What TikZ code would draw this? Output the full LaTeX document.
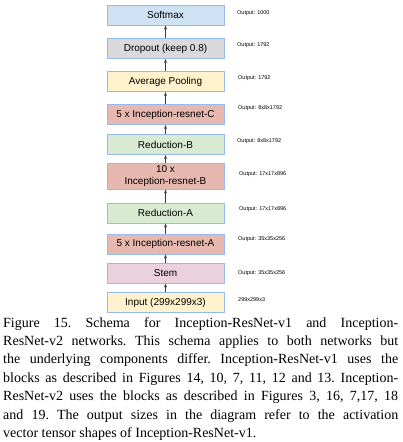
\documentclass[tikz,border=0pt]{standalone}
\usepackage{fontspec}
\setmainfont{Liberation Serif}
\setsansfont{Liberation Sans}
\definecolor{edgeblue}{RGB}{150,185,240}
\definecolor{softblue}{RGB}{207,226,243}
\definecolor{dropgray}{RGB}{217,217,217}
\definecolor{poolyellow}{RGB}{255,242,204}
\definecolor{incred}{RGB}{230,184,175}
\definecolor{redgreen}{RGB}{217,234,211}
\definecolor{stempink}{RGB}{234,209,220}
\definecolor{arrgray}{RGB}{60,60,60}
\usepackage{tikz}
\usetikzlibrary{arrows.meta,positioning}

\begin{document}
\begin{tikzpicture}[x=1pt, y=-1pt,
      box/.style={draw=edgeblue, line width=1pt, minimum width=117pt, minimum height=20pt,
                  inner sep=1pt, font=\sffamily\fontsize{10}{11.5}\selectfont, align=center},
      arr/.style={-{Stealth[length=4pt,width=3pt]}, draw=arrgray, line width=1.2pt},
      outlbl/.style={anchor=west, inner sep=0pt, font=\sffamily\fontsize{5.5}{6}\selectfont}
    ]
      \useasboundingbox (0,0) rectangle (402,442);
      % network blocks, bottom to top
      \node[box, fill=poolyellow] (input) at (165.5,302.5) {Input (299x299x3)};
      \node[box, fill=stempink] (stem) at (165.5,273) {Stem};
      \node[box, fill=incred] (incA) at (165.5,244) {5 x Inception-resnet-A};
      \node[box, fill=redgreen] (redA) at (165.5,213) {Reduction-A};
      \node[box, fill=incred, minimum height=26pt] (incB) at (165.5,176) {10 x\\Inception-resnet-B};
      \node[box, fill=redgreen] (redB) at (165.5,144.5) {Reduction-B};
      \node[box, fill=incred] (incC) at (165.5,114.5) {5 x Inception-resnet-C};
      \node[box, fill=poolyellow] (pool) at (165.5,81.5) {Average Pooling};
      \node[box, fill=dropgray] (drop) at (165.5,48.5) {Dropout (keep 0.8)};
      \node[box, fill=softblue] (softmax) at (165.5,15) {Softmax};
      \draw[arr] (input) -- (stem);
      \draw[arr] (stem) -- (incA);
      \draw[arr] (incA) -- (redA);
      \draw[arr] (redA) -- (incB);
      \draw[arr] (incB) -- (redB);
      \draw[arr] (redB) -- (incC);
      \draw[arr] (incC) -- (pool);
      \draw[arr] (pool) -- (drop);
      \draw[arr] (drop) -- (softmax);
      % output sizes
      \node[outlbl] (oSoftmax) at (237,13) {Output: 1000};
      \node[outlbl] (oDrop) at (237,45) {Output: 1792};
      \node[outlbl] (oPool) at (238,78) {Output: 1792};
      \node[outlbl] (oIncC) at (238,108) {Output: 8x8x1792};
      \node[outlbl] (oRedB) at (237,141) {Output: 8x8x1792};
      \node[outlbl] (oIncB) at (239,174) {Output: 17x17x896};
      \node[outlbl] (oRedA) at (239,209) {Output: 17x17x896};
      \node[outlbl] (oIncA) at (238,239) {Output: 35x35x256};
      \node[outlbl] (oStem) at (238,273) {Output: 35x35x256};
      \node[outlbl] (oInput) at (238,300) {299x299x3};
      % caption
      \node[anchor=north west, inner sep=0pt, text width=395pt, align=justify,
            font=\frenchspacing\fontsize{14}{18.4}\selectfont] (caption) at (3,317)
        {Figure 15. Schema for Inception-ResNet-v1 and Inception-\linebreak
         ResNet-v2 networks. This schema applies to both networks but\linebreak
         the underlying components differ. Inception-ResNet-v1 uses the\linebreak
         blocks as described in Figures 14, 10, 7, 11, 12 and 13. Inception-\linebreak
         ResNet-v2 uses the blocks as described in Figures 3, 16, 7,17, 18\linebreak
         and 19. The output sizes in the diagram refer to the activation\linebreak
         vector tensor shapes of Inception-ResNet-v1.};
    \end{tikzpicture}
\end{document}
